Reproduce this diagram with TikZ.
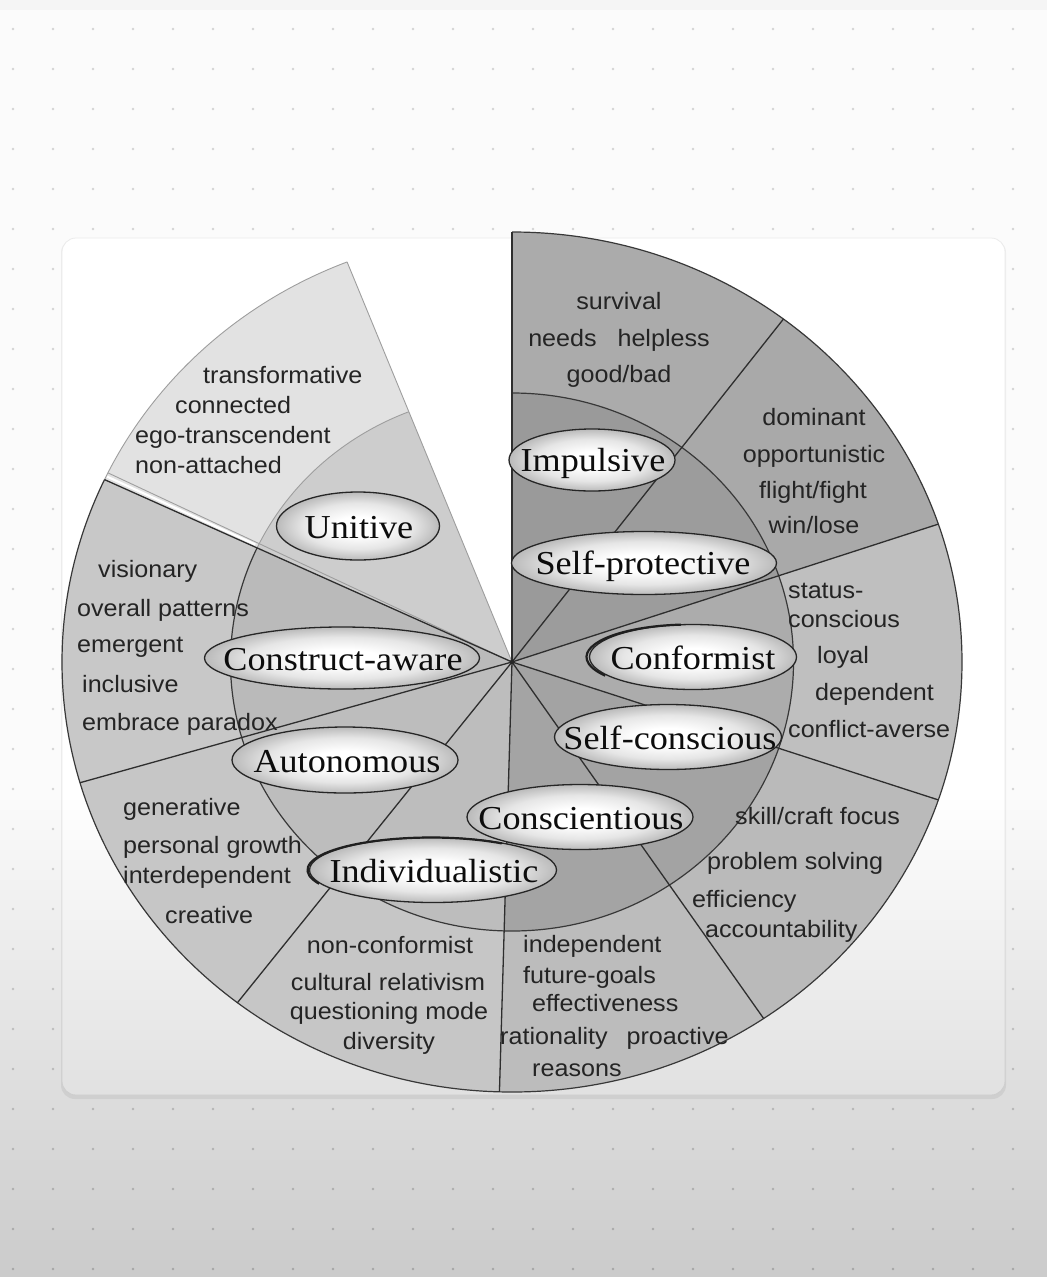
\documentclass[tikz,border=0pt]{standalone}
\usepackage{fontspec}
\usetikzlibrary{shapes.geometric}
\newfontfamily\lblfont[FakeStretch=1.08]{Liberation Serif}
\newfontfamily\dscfont[FakeStretch=1.06]{Liberation Sans}
\definecolor{impO}{HTML}{ABABAB}\definecolor{impI}{HTML}{9A9A9A}
\definecolor{spO}{HTML}{A9A9A9}\definecolor{spI}{HTML}{9C9C9C}
\definecolor{cfO}{HTML}{BFBFBF}\definecolor{cfI}{HTML}{ACACAC}
\definecolor{scO}{HTML}{BABABA}\definecolor{scI}{HTML}{A3A3A3}
\definecolor{ctO}{HTML}{BCBCBC}\definecolor{ctI}{HTML}{A4A4A4}
\definecolor{inO}{HTML}{C6C6C6}\definecolor{inI}{HTML}{BDBDBD}
\definecolor{auO}{HTML}{C6C6C6}\definecolor{auI}{HTML}{BDBDBD}
\definecolor{caO}{HTML}{C8C8C8}\definecolor{caI}{HTML}{BABABA}
\definecolor{unO}{HTML}{E2E2E2}\definecolor{unI}{HTML}{CDCDCD}
\pgfdeclareradialshading{ellsh}{\pgfpoint{0bp}{0bp}}{color(0bp)=(white); color(7bp)=(white); color(17bp)=(black!10); color(25bp)=(black!27); color(50bp)=(black!27)}
\newcommand\wslice[4]{\fill[#4] (0,0) -- (#1:#3) arc[start angle=#1, end angle=#2, radius=#3] -- cycle;}
\tikzset{
  stage/.style={ellipse, draw=black!85, line width=1.3pt, shading=ellsh, inner sep=0pt},
  stagetxt/.style={font=\lblfont\fontsize{33.5}{38}\selectfont, text=black!95, anchor=base, inner sep=0pt},
  dsc/.style={font=\dscfont\fontsize{23.7}{30}\selectfont, text=black!86, anchor=base, inner sep=0pt},
  dscl/.style={dsc, anchor=base west},
  spoke/.style={draw=black!82, line width=1.3pt},
  rim/.style={draw=black!78, line width=1.2pt},
  urim/.style={draw=black!38, line width=0.9pt},
  art/.style={draw=black!88, line width=2.2pt},
}
\begin{document}
\begin{tikzpicture}[x=1pt,y=1pt]
\useasboundingbox (0,-1277) rectangle (1047,0);
% page background
\fill[white!98.5!black] (0,-1277) rectangle (1047,0);
\fill[black!4] (0,-10) rectangle (1047,0);
\foreach \i in {0,...,26} \foreach \j in {0,...,31}
  \fill[black!17] (13+40*\i,-29-40*\j) circle (1.3);
% card
\fill[black!7, rounded corners=14pt] (61,-1099) rectangle (1006,-239);
\fill[white, rounded corners=14pt] (62,-1095) rectangle (1005,-238);
\draw[black!8, line width=0.8pt, rounded corners=14pt] (62,-1095) rectangle (1005,-238);
% bottom gradient overlay
\foreach \k in {0,...,47}
  \fill[black, opacity=0.0034] (0,-800-10*\k) rectangle (1047,-1277);
% wheel
\begin{scope}[shift={(512,-662)}, xscale=1.0465]
  \wslice{90}{52.9}{430}{impO}
  \wslice{52.9}{18.7}{430}{spO}
  \wslice{18.7}{-18.7}{430}{cfO}
  \wslice{-18.7}{-56}{430}{scO}
  \wslice{-56}{-91.6}{430}{ctO}
  \wslice{-91.6}{-127.6}{430}{inO}
  \wslice{-127.6}{-163.7}{430}{auO}
  \wslice{-163.7}{-205.1}{430}{caO}
  \wslice{-205.1}{-248.5}{430}{unO}
  \wslice{90}{52.9}{269}{impI}
  \wslice{52.9}{18.7}{269}{spI}
  \wslice{18.7}{-18.7}{269}{cfI}
  \wslice{-18.7}{-56}{269}{scI}
  \wslice{-56}{-91.6}{269}{ctI}
  \wslice{-91.6}{-127.6}{269}{inI}
  \wslice{-127.6}{-163.7}{269}{auI}
  \wslice{-163.7}{-205.1}{269}{caI}
  \wslice{-205.1}{-248.5}{269}{unI}
  % unitive light outline
  \draw[urim] (111.5:430) arc[start angle=111.5, end angle=154.9, radius=430];
  \draw[urim] (111.5:269) arc[start angle=111.5, end angle=154.9, radius=269];
  \draw[urim] (0,0) -- (111.5:430);
  \draw[urim] (0,0) -- (153.9:430);
  \draw[white, line width=2.2pt] (154.4:272) -- (154.4:429);
  % dark rims
  \draw[rim] (90:430) arc[start angle=90, end angle=-205.1, radius=430];
  \draw[rim] (90:269) arc[start angle=90, end angle=-205.1, radius=269];
  \foreach \a in {90,52.9,18.7,-18.7,-56,-91.6,-127.6,-163.7,154.9}
    \draw[spoke] (0,0) -- (\a:430);
  \fill[black!85] (0,0) circle (2.2);
\end{scope}
% stage ellipses
\node[stage, minimum width=166pt, minimum height=62pt] (eImp) at (592,-460) {};
\node[stage, minimum width=265pt, minimum height=63pt] (eSp) at (644,-563) {};
\node[stage, minimum width=207pt, minimum height=65pt] (eCf) at (693,-657) {};
\node[stage, minimum width=227pt, minimum height=65pt] (eSc) at (668,-737) {};
\node[stage, minimum width=226pt, minimum height=65pt] (eCt) at (580,-817) {};
\node[stage, minimum width=247pt, minimum height=65pt] (eIn) at (433,-870) {};
\node[stage, minimum width=226pt, minimum height=66pt] (eAu) at (345,-760) {};
\node[stage, minimum width=275pt, minimum height=62pt] (eCa) at (342,-658) {};
\node[stage, minimum width=163pt, minimum height=68pt] (eUn) at (358,-526) {};
\draw[art] ([shift={(-3,0)}]eCf.center) ++(95:103.5 and 32.5) arc[start angle=95, end angle=215, x radius=103.5, y radius=32.5];
\draw[art] ([shift={(-2,0)}]eIn.center) ++(55:123.5 and 32.5) arc[start angle=55, end angle=205, x radius=123.5, y radius=32.5];
\node[stagetxt] (tImp) at (593,-471) {Impulsive};
\node[stagetxt] (tSp) at (643,-574) {Self-protective};
\node[stagetxt] (tCf) at (693,-669) {Conformist};
\node[stagetxt] (tSc) at (670,-749) {Self-conscious};
\node[stagetxt] (tCt) at (581,-829) {Conscientious};
\node[stagetxt] (tIn) at (434,-882) {Individualistic};
\node[stagetxt] (tAu) at (347,-772) {Autonomous};
\node[stagetxt] (tCa) at (343,-670) {Construct-aware};
\node[stagetxt] (tUn) at (359,-538) {Unitive};
% descriptors: Impulsive
\node[dsc] (d1) at (619,-309) {survival};
\node[dsc] (d2) at (619,-346) {needs\hspace{0.88em}helpless};
\node[dsc] (d3) at (619,-382) {good/bad};
% Self-protective
\node[dsc] (d4) at (814,-425) {dominant};
\node[dsc] (d5) at (814,-462) {opportunistic};
\node[dsc] (d6) at (813,-498) {flight/fight};
\node[dsc] (d7) at (814,-533) {win/lose};
% Conformist
\node[dscl] (d8) at (788,-598) {status-};
\node[dscl] (d9) at (788,-627) {conscious};
\node[dscl] (d10) at (817,-663) {loyal};
\node[dscl] (d11) at (815,-700) {dependent};
\node[dscl] (d12) at (788,-737) {conflict-averse};
% Self-conscious
\node[dscl] (d13) at (735,-824) {skill/craft focus};
\node[dscl] (d14) at (707,-869) {problem solving};
\node[dscl] (d15) at (692,-907) {efficiency};
\node[dscl] (d16) at (705,-937) {accountability};
% Conscientious
\node[dscl] (d17) at (523,-952) {independent};
\node[dscl] (d18) at (523,-983) {future-goals};
\node[dscl] (d19) at (532,-1011) {effectiveness};
\node[dscl] (d20) at (500,-1044) {rationality\hspace{0.8em}proactive};
\node[dscl] (d21) at (532,-1076) {reasons};
% Individualistic
\node[dsc] (d22) at (390,-953) {non-conformist};
\node[dsc] (d23) at (388,-990) {cultural relativism};
\node[dsc] (d24) at (389,-1019) {questioning mode};
\node[dsc] (d25) at (389,-1049) {diversity};
% Autonomous
\node[dscl] (d26) at (123,-815) {generative};
\node[dscl] (d27) at (123,-853) {personal growth};
\node[dscl] (d28) at (123,-883) {interdependent};
\node[dscl] (d29) at (165,-923) {creative};
% Construct-aware
\node[dscl] (d30) at (98,-577) {visionary};
\node[dscl] (d31) at (77,-616) {overall patterns};
\node[dscl] (d32) at (77,-652) {emergent};
\node[dscl] (d33) at (82,-692) {inclusive};
\node[dscl] (d34) at (82,-730) {embrace paradox};
% Unitive
\node[dscl] (d35) at (203,-383) {transformative};
\node[dscl] (d36) at (175,-413) {connected};
\node[dscl] (d37) at (135,-443) {ego-transcendent};
\node[dscl] (d38) at (135,-473) {non-attached};
\end{tikzpicture}
\end{document}
